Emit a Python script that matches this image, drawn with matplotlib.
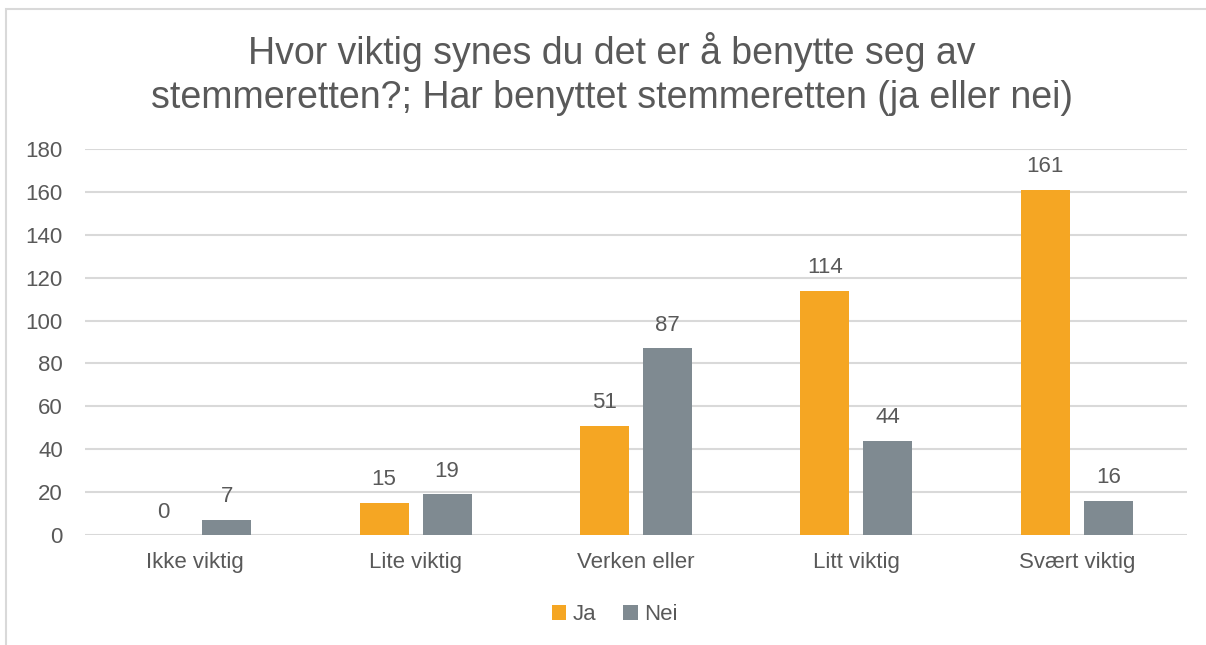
import matplotlib.pyplot as plt
import matplotlib.patches as mpatches
import numpy as np

plt.rcParams['font.family'] = ['Liberation Sans', 'DejaVu Sans']

categories = ['Ikke viktig', 'Lite viktig', 'Verken eller', 'Litt viktig', 'Svært viktig']
ja = [0, 15, 51, 114, 161]
nei = [7, 19, 87, 44, 16]
series_names = ['Ja', 'Nei']
colors = ['#F5A623', '#7F8A91']
text_col = '#595959'

fig = plt.figure(figsize=(12.06, 6.45), dpi=100)
# outer chart border like the original
fig.patches.append(mpatches.Rectangle((6 / 1206, -0.1), 1.2, (645 - 9) / 645 + 0.1,
                                      transform=fig.transFigure, fill=False,
                                      edgecolor='#D9D9D9', linewidth=1.5))
ax = fig.add_axes([85 / 1206, 110 / 645, (1187 - 85) / 1206, (535 - 149) / 645])

x = np.arange(len(categories))
w = 0.222
off = 0.143
b1 = ax.bar(x - off, ja, w, color=colors[0], label=series_names[0])
b2 = ax.bar(x + off, nei, w, color=colors[1], label=series_names[1])
for bars in (b1, b2):
    ax.bar_label(bars, padding=9, fontsize=16, color=text_col)

ax.set_xlim(-0.5, len(categories) - 0.5)
ax.set_ylim(0, 180)
ax.set_yticks(range(0, 181, 20))
ax.set_xticks(x, categories)
ax.tick_params(axis='both', length=0, labelsize=16, labelcolor=text_col)
ax.tick_params(axis='x', pad=12)
ax.tick_params(axis='y', pad=16)
ax.grid(axis='y', color='#D9D9D9', linewidth=1.5)
ax.set_axisbelow(True)
for s in ax.spines.values():
    s.set_visible(False)

fig.text(612 / 1206, 1 - 74 / 645, 'Hvor viktig synes du det er å benytte seg av\nstemmeretten?; Har benyttet stemmeretten (ja eller nei)',
         ha='center', va='center', fontsize=27, color=text_col, linespacing=1.3)

fig.legend(handles=[b1, b2], loc='center', bbox_to_anchor=(615 / 1206, 1 - 615 / 645),
           ncol=2, frameon=False, fontsize=16, labelcolor=text_col,
           handlelength=0.65, handleheight=0.65, handletextpad=0.3, columnspacing=1.2)

fig.savefig('out.png', dpi=100)
